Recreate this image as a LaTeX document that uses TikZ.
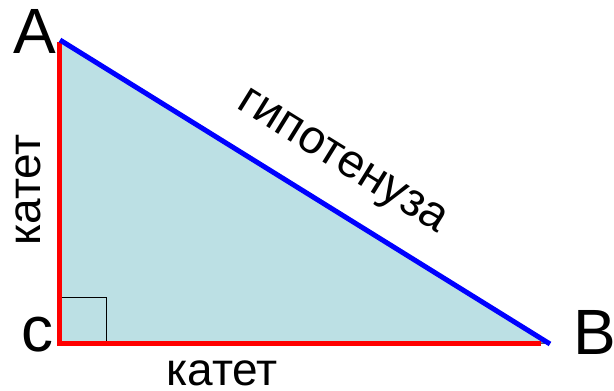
\documentclass[tikz,border=0pt]{standalone}
\usepackage{fontspec}
\setmainfont{Liberation Sans}
\definecolor{trifill}{RGB}{188,224,228}
\definecolor{legred}{RGB}{255,0,0}
\definecolor{hypblue}{RGB}{0,0,255}
\begin{document}
\begin{tikzpicture}[x=1pt,y=-1pt,
  vlabel/.style={inner sep=0pt,font=\fontsize{64}{64}\selectfont},
  slabel/.style={inner sep=0pt,font=\fontsize{46}{46}\selectfont},
  hlabel/.style={inner sep=0pt,font=\fontsize{47}{47}\selectfont},
  leg/.style={draw=legred,line width=5pt},
  hyp/.style={draw=hypblue,line width=5pt}]
\useasboundingbox (0,0) rectangle (614,391);
\coordinate (A) at (61,42);
\coordinate (C) at (61,343);
\coordinate (B) at (546,343);
\fill[trifill,draw=black,line width=1pt] (A) -- (C) -- (B) -- cycle;
\draw[black,line width=1pt] (61,297) -- (106,297) -- (106,343);
\coordinate (Ctop) at (59,42);
\coordinate (Cbot) at (59,345);
\coordinate (Cl) at (57,343);
\coordinate (Bend) at (541,343);
\coordinate (Ha) at (60,40);
\coordinate (Hb) at (550,344);
\draw[leg] (Ctop) -- (Cbot);
\draw[leg] (Cl) -- (Bend);
\draw[hyp] (Ha) -- (Hb);
\node[vlabel] (lA) at (35,31) {A};
\node[vlabel] (lC) at (37,335) {c};
\node[vlabel] (lB) at (595,332) {B};
\node[slabel,rotate=90] (k1) at (28,190) {катет};
\node[slabel] (k2) at (222,373) {катет};
\node[hlabel,rotate=-31.8] (h) at (341,164) {гипотенуза};
\end{tikzpicture}
\end{document}
